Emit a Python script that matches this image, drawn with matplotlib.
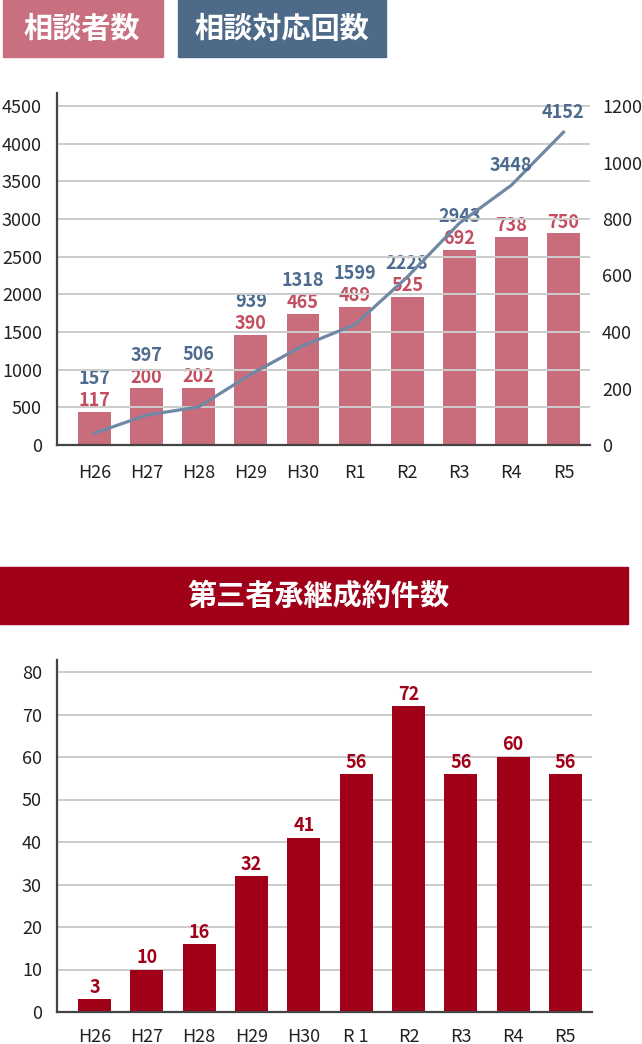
import matplotlib
matplotlib.use("Agg")
import matplotlib.pyplot as plt
from matplotlib.patches import Rectangle

plt.rcParams['font.family'] = ['Noto Sans CJK JP', 'DejaVu Sans']

# ---- data ----
years = ["H26", "H27", "H28", "H29", "H30", "R1", "R2", "R3", "R4", "R5"]
years_bottom = ["H26", "H27", "H28", "H29", "H30", "R 1", "R2", "R3", "R4", "R5"]
consultants = [117, 200, 202, 390, 465, 489, 525, 692, 738, 750]          # 相談者数 (right axis)
consult_count = [157, 397, 506, 939, 1318, 1599, 2228, 2943, 3448, 4152]  # 相談対応回数 (left axis)
contracts = [3, 10, 16, 32, 41, 56, 72, 56, 60, 56]                       # 第三者承継成約件数
left_ticks = [0, 500, 1000, 1500, 2000, 2500, 3000, 3500, 4000, 4500]
right_ticks = [0, 200, 400, 600, 800, 1000, 1200]
bottom_ticks = [0, 10, 20, 30, 40, 50, 60, 70, 80]

title1 = "相談者数"
title2 = "相談対応回数"
title3 = "第三者承継成約件数"

# ---- styles ----
W, H = 642, 1044
PINK_BAR = "#c96c7b"
PINK_HDR = "#c87080"
BLUE_HDR = "#4e6a89"
LINE_C = "#7088a4"
BLUE_TXT = "#4d6b8e"
RED_TXT = "#c24e60"
DARK_RED = "#a00018"
GRID_C = "#cccccc"
SPINE_C = "#444444"
TICK_C = "#222222"
PT = 0.72  # points per pixel
TICK_FS = 13
VAL_FS = 13

fig = plt.figure(figsize=(W / 100, H / 100), dpi=100)


def fx(px):
    return px / W


def fy(py):
    return 1 - py / H


# headers
hdr = fig.add_axes([0, 0, 1, 1])
hdr.set_xlim(0, W)
hdr.set_ylim(H, 0)
hdr.axis("off")
hdr.add_patch(Rectangle((3, 0), 160, 57, color=PINK_HDR))
hdr.text(82, 29, title1, color="white", fontsize=21, fontweight="bold", ha="center", va="center")
hdr.add_patch(Rectangle((178, 0), 208, 57, color=BLUE_HDR))
hdr.text(282, 29, title2, color="white", fontsize=21, fontweight="bold", ha="center", va="center")
hdr.add_patch(Rectangle((0, 567), 628, 57, color=DARK_RED))
hdr.text(318, 596, title3, color="white", fontsize=21, fontweight="bold", ha="center", va="center")

x = list(range(len(years)))
XLIM = (-0.72, 9.51)
BW = 0.63


def style_axes(ax, xpad):
    ax.set_xlim(*XLIM)
    for s in ["top", "right"]:
        ax.spines[s].set_visible(False)
    for s in ["left", "bottom"]:
        ax.spines[s].set_color(SPINE_C)
        ax.spines[s].set_linewidth(1.6)
    ax.grid(axis="y", color=GRID_C, linewidth=1.4)
    ax.set_axisbelow(True)
    ax.tick_params(axis="both", length=0, labelsize=TICK_FS, colors=TICK_C)
    ax.tick_params(axis="y", pad=15 * PT)
    ax.tick_params(axis="x", pad=xpad)


# ---- top chart ----
ax1 = fig.add_axes([fx(57), fy(445), fx(590 - 57), 352 / H])
ax2 = ax1.twinx()
style_axes(ax1, 13.5)
ax1.set_ylim(0, 4500 * 352 / 339)
ax1.set_yticks(left_ticks)
ax1.set_xticks(x)
ax1.set_xticklabels(years)
ax2.set_ylim(0, 1200 * 352 / 339)
ax2.set_yticks(right_ticks)
for s in ax2.spines.values():
    s.set_visible(False)
ax2.tick_params(axis="y", length=0, labelsize=TICK_FS, colors=TICK_C, pad=12 * PT)

ax2.bar(x, consultants, width=BW, color=PINK_BAR, zorder=2)
ax1.set_zorder(ax2.get_zorder() + 1)
ax1.patch.set_visible(False)
ax1.plot(x, consult_count, color=LINE_C, linewidth=2.3, zorder=3)

for i in x:
    ax2.annotate(str(consultants[i]), (i, consultants[i]), xytext=(0, 11 * PT),
                 textcoords="offset points", ha="center", va="center",
                 color=RED_TXT, fontsize=VAL_FS, fontweight="bold", zorder=5)
    red_px = ax2.transData.transform((i, consultants[i]))[1] + 11
    line_px = ax1.transData.transform((i, consult_count[i]))[1]
    if line_px > red_px + 22:
        ax1.annotate(str(consult_count[i]), (i, consult_count[i]), xytext=(0, 20 * PT),
                     textcoords="offset points", ha="center", va="center",
                     color=BLUE_TXT, fontsize=VAL_FS, fontweight="bold", zorder=5)
    else:
        ax2.annotate(str(consult_count[i]), (i, consultants[i]), xytext=(0, 33 * PT),
                     textcoords="offset points", ha="center", va="center",
                     color=BLUE_TXT, fontsize=VAL_FS, fontweight="bold", zorder=5)

# ---- bottom chart ----
ax3 = fig.add_axes([fx(57), fy(1012), fx(592 - 57), 352 / H])
style_axes(ax3, 11.5)
ax3.set_ylim(0, 80 * 352 / 340)
ax3.set_yticks(bottom_ticks)
ax3.set_xticks(x)
ax3.set_xticklabels(years_bottom)
ax3.bar(x, contracts, width=BW, color=DARK_RED, zorder=2)
for i in x:
    ax3.annotate(str(contracts[i]), (i, contracts[i]), xytext=(0, 12 * PT),
                 textcoords="offset points", ha="center", va="center",
                 color=DARK_RED, fontsize=VAL_FS, fontweight="bold")

fig.savefig("out.png", dpi=100)
